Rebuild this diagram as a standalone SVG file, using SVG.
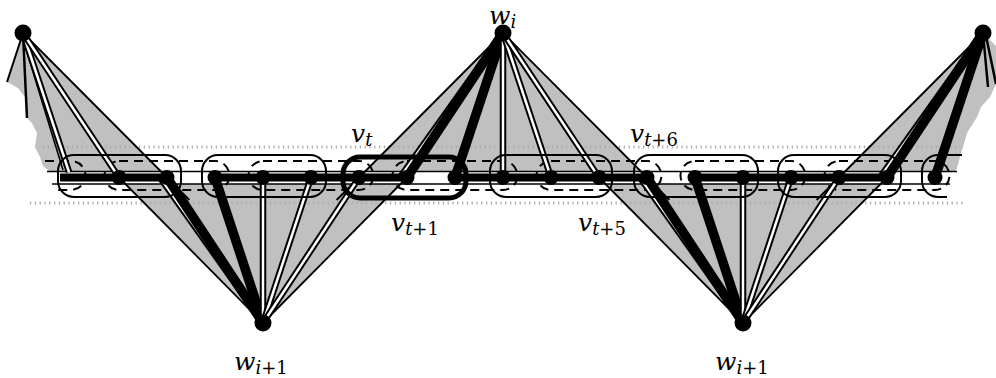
<svg xmlns="http://www.w3.org/2000/svg" width="996" height="378" viewBox="0 0 996 378">
<style>
.fan{fill:#c0c0c0;stroke:none}
.bd{stroke:#000;stroke-width:1.8;fill:none}
.th{stroke:#000;stroke-width:9.5}
.eo{stroke:#000;stroke-width:6.5}
.ei{stroke:#fff;stroke-width:2.5}
.thin{stroke:#000;stroke-width:1.6;fill:none}
.dot{stroke:#aaa;stroke-width:3;stroke-dasharray:1.2 3.6;fill:none}
.dash{stroke:#000;stroke-width:2;stroke-dasharray:9 6;fill:none}
.box{fill:none;stroke:#000;stroke-width:2}
.boxc{fill:none;stroke:#000;stroke-width:5}
.hp{stroke:#000;stroke-width:8}
.nd{fill:#000}
.m{font-family:"DejaVu Serif",serif;font-style:italic;font-size:25px;fill:#000}
.s{font-size:18px}
.r{font-style:normal}
</style>

<g id="fans">
  <polygon class="fan" points="23,33 7,82 18,88 25,97 27,118 32,123 37,133 35,147 40,157 43,166 50,171.5 161,171.5"/>
  <polygon class="fan" points="503,33 365,171.5 641,171.5"/>
  <polygon class="fan" points="983,33 996,46 996,84 990,97 981,107 977,117 967,133 963,147 960,157 957,168 955,171.5 845,171.5"/>
  <polygon class="fan" points="263,323 125.4,184 400.6,184"/>
  <polygon class="fan" points="743,323 605.4,184 880.6,184"/>
</g>

<g id="strip">
  <line class="dot" x1="43" y1="147" x2="960" y2="147"/>
  <line class="dot" x1="30" y1="203" x2="966" y2="203"/>
  <line class="thin" x1="47" y1="171.5" x2="957" y2="171.5"/>
  <line class="thin" x1="52" y1="184" x2="950" y2="184"/>
  <path class="dash" d="M45,161 H71 A14.5,14.5 0 0 1 71,190 H58"/>
  <rect class="dash" x="104.5" y="161" width="125" height="29" rx="14.5"/>
  <rect class="dash" x="248.5" y="161" width="125" height="29" rx="14.5"/>
  <rect class="dash" x="392.5" y="161" width="125" height="29" rx="14.5"/>
  <rect class="dash" x="536.5" y="161" width="125" height="29" rx="14.5"/>
  <rect class="dash" x="680.5" y="161" width="125" height="29" rx="14.5"/>
  <rect class="dash" x="824.5" y="161" width="125" height="29" rx="14.5"/>
</g>

<g id="connectors">
  <line class="bd" x1="23" y1="33" x2="189.4" y2="200"/>
  <line class="thin" x1="22" y1="36" x2="63" y2="170"/>
  <line class="eo" x1="23" y1="33" x2="69" y2="172"/>
  <line class="ei" x1="23" y1="33" x2="69" y2="172"/>
  <line class="eo" x1="23" y1="33" x2="119" y2="177.5"/>
  <line class="ei" x1="23" y1="33" x2="119" y2="177.5"/>
  <line stroke="#000" stroke-width="2" x1="23" y1="33" x2="7" y2="82"/>
  <line stroke="#000" stroke-width="2.5" x1="23" y1="33" x2="27" y2="118"/>

  <line class="bd" x1="503" y1="33" x2="336.6" y2="200"/>
  <line class="bd" x1="503" y1="33" x2="669.4" y2="200"/>
  <line class="eo" x1="503" y1="33" x2="400" y2="177.5"/>
  <line class="ei" x1="503" y1="33" x2="400" y2="177.5"/>
  <line class="th" x1="503" y1="33" x2="407" y2="177.5"/>
  <line class="th" x1="503" y1="33" x2="455" y2="177.5"/>
  <line class="eo" x1="503" y1="33" x2="503" y2="177.5"/>
  <line class="ei" x1="503" y1="33" x2="503" y2="177.5"/>
  <line class="eo" x1="503" y1="33" x2="551" y2="177.5"/>
  <line class="ei" x1="503" y1="33" x2="551" y2="177.5"/>
  <line class="eo" x1="503" y1="33" x2="599" y2="177.5"/>
  <line class="ei" x1="503" y1="33" x2="599" y2="177.5"/>

  <line class="bd" x1="983" y1="33" x2="816.6" y2="200"/>
  <line class="eo" x1="983" y1="33" x2="880" y2="177.5"/>
  <line class="ei" x1="983" y1="33" x2="880" y2="177.5"/>
  <line class="th" x1="983" y1="33" x2="887" y2="177.5"/>
  <line class="th" x1="983" y1="33" x2="935" y2="177.5"/>
  <line stroke="#000" stroke-width="2.5" x1="983" y1="33" x2="988" y2="87"/>
  <line stroke="#000" stroke-width="2.5" x1="986" y1="36" x2="996" y2="84"/>

  <line class="bd" x1="263" y1="323" x2="119" y2="177.5"/>
  <line class="bd" x1="263" y1="323" x2="407" y2="177.5"/>
  <line class="eo" x1="263" y1="323" x2="160" y2="177.5"/>
  <line class="ei" x1="263" y1="323" x2="160" y2="177.5"/>
  <line class="th" x1="263" y1="323" x2="167" y2="177.5"/>
  <line class="th" x1="263" y1="323" x2="215" y2="177.5"/>
  <line class="eo" x1="263" y1="323" x2="263" y2="177.5"/>
  <line class="ei" x1="263" y1="323" x2="263" y2="177.5"/>
  <line class="eo" x1="263" y1="323" x2="311" y2="177.5"/>
  <line class="ei" x1="263" y1="323" x2="311" y2="177.5"/>
  <line class="eo" x1="263" y1="323" x2="359" y2="177.5"/>
  <line class="ei" x1="263" y1="323" x2="359" y2="177.5"/>

  <line class="bd" x1="743" y1="323" x2="599" y2="177.5"/>
  <line class="bd" x1="743" y1="323" x2="887" y2="177.5"/>
  <line class="eo" x1="743" y1="323" x2="640" y2="177.5"/>
  <line class="ei" x1="743" y1="323" x2="640" y2="177.5"/>
  <line class="th" x1="743" y1="323" x2="647" y2="177.5"/>
  <line class="th" x1="743" y1="323" x2="695" y2="177.5"/>
  <line class="eo" x1="743" y1="323" x2="743" y2="177.5"/>
  <line class="ei" x1="743" y1="323" x2="743" y2="177.5"/>
  <line class="eo" x1="743" y1="323" x2="791" y2="177.5"/>
  <line class="ei" x1="743" y1="323" x2="791" y2="177.5"/>
  <line class="eo" x1="743" y1="323" x2="839" y2="177.5"/>
  <line class="ei" x1="743" y1="323" x2="839" y2="177.5"/>

  <line class="hp" x1="60" y1="177.5" x2="167" y2="177.5"/>
  <line class="hp" x1="215" y1="177.5" x2="407" y2="177.5"/>
  <line class="hp" x1="455" y1="177.5" x2="647" y2="177.5"/>
  <line class="hp" x1="695" y1="177.5" x2="887" y2="177.5"/>
</g>

<g id="groups">
  <rect class="box" x="58" y="155" width="123" height="42" rx="16"/>
  <rect class="box" x="202" y="155" width="124" height="42" rx="16"/>
  <rect class="boxc" x="343" y="157" width="123" height="41" rx="17"/>
  <rect class="box" x="490" y="155" width="122" height="42" rx="16"/>
  <rect class="box" x="634" y="155" width="124" height="42" rx="16"/>
  <rect class="box" x="778" y="155" width="123" height="42" rx="16"/>
  <path class="box" d="M962,155 H938 A16,16 0 0 0 922,171 V181 A16,16 0 0 0 938,197 H947"/>
</g>

<g id="w-left"><circle class="nd" cx="23" cy="33" r="8.5"/></g>
<g id="w-i"><circle class="nd" cx="503" cy="33" r="8.5"/><text class="m" x="489" y="24">w<tspan class="s" dy="4">i</tspan></text></g>
<g id="w-right"><circle class="nd" cx="983" cy="33" r="8.5"/></g>
<g id="w-i1-a"><circle class="nd" cx="263" cy="323" r="8.5"/><text class="m" x="234" y="370">w<tspan class="s" dy="4">i</tspan><tspan class="s r">+1</tspan></text></g>
<g id="w-i1-b"><circle class="nd" cx="743" cy="323" r="8.5"/><text class="m" x="715" y="370">w<tspan class="s" dy="4">i</tspan><tspan class="s r">+1</tspan></text></g>

<g id="n119"><circle class="nd" cx="119" cy="177.5" r="7.5"/></g>
<g id="n167"><circle class="nd" cx="167" cy="177.5" r="7.5"/></g>
<g id="n215"><circle class="nd" cx="215" cy="177.5" r="7.5"/></g>
<g id="n263"><circle class="nd" cx="263" cy="177.5" r="7.5"/></g>
<g id="n311"><circle class="nd" cx="311" cy="177.5" r="7.5"/></g>
<g id="v-t"><circle class="nd" cx="359" cy="177.5" r="7.5"/><text class="m" x="351" y="142">v<tspan class="s" dy="4">t</tspan></text></g>
<g id="v-t1"><circle class="nd" cx="407" cy="177.5" r="7.5"/><text class="m" x="391" y="231">v<tspan class="s" dy="4">t</tspan><tspan class="s r">+1</tspan></text></g>
<g id="n455"><circle class="nd" cx="455" cy="177.5" r="7.5"/></g>
<g id="n503"><circle class="nd" cx="503" cy="177.5" r="7.5"/></g>
<g id="n551"><circle class="nd" cx="551" cy="177.5" r="7.5"/></g>
<g id="v-t5"><circle class="nd" cx="599" cy="177.5" r="7.5"/><text class="m" x="578" y="231">v<tspan class="s" dy="4">t</tspan><tspan class="s r">+5</tspan></text></g>
<g id="v-t6"><circle class="nd" cx="647" cy="177.5" r="7.5"/><text class="m" x="630" y="142">v<tspan class="s" dy="4">t</tspan><tspan class="s r">+6</tspan></text></g>
<g id="n695"><circle class="nd" cx="695" cy="177.5" r="7.5"/></g>
<g id="n743"><circle class="nd" cx="743" cy="177.5" r="7.5"/></g>
<g id="n791"><circle class="nd" cx="791" cy="177.5" r="7.5"/></g>
<g id="n839"><circle class="nd" cx="839" cy="177.5" r="7.5"/></g>
<g id="n887"><circle class="nd" cx="887" cy="177.5" r="7.5"/></g>
<g id="n935"><circle class="nd" cx="935" cy="177.5" r="7.5"/></g>
</svg>
